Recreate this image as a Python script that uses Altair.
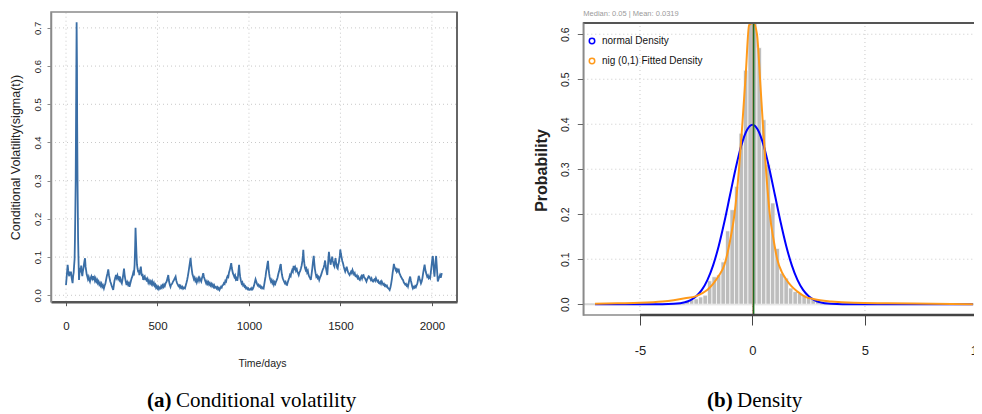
import altair as alt
import pandas as pd

# ---------------- panel (a): conditional volatility ----------------
vol_points = [
    (0, .027), (4, .05), (9, .080), (12, .065), (15, .055), (18, .050), (21, .062), (24, .055), (27, .062),
    (30, .048), (33, .040), (36, .032), (39, .050), (42, .060), (44, .075), (47, .095), (49, .150), (51, .22),
    (53, .300), (56, .550), (58, .715), (60, .60), (61, .450), (63, .30), (64, .250), (66, .15), (68, .100),
    (71, .040), (74, .060), (77, .072), (80, .060), (83, .078), (86, .060), (89, .050), (92, .062), (95, .070),
    (98, .080), (101, .090), (104, .097), (107, .075), (110, .065), (113, .055), (116, .050), (120, .042),
    (124, .048), (128, .040), (131, .036), (135, .045), (139, .050), (143, .044), (146, .050), (150, .040),
    (154, .046), (158, .038), (162, .044), (166, .036), (170, .040), (174, .032), (178, .036), (182, .028),
    (186, .032), (190, .025), (194, .030), (198, .022), (202, .026), (207, .018), (211, .025), (215, .030),
    (219, .040), (223, .050), (227, .058), (231, .068), (235, .052), (238, .045), (242, .036), (246, .031),
    (249, .026), (252, .022), (255, .018), (258, .014), (262, .028), (265, .038), (269, .045), (273, .053),
    (277, .046), (281, .052), (285, .044), (289, .050), (293, .040), (297, .044), (301, .035), (305, .031),
    (309, .042), (313, .055), (317, .070), (320, .055), (323, .045), (327, .035), (331, .027), (335, .034),
    (339, .028), (343, .032), (347, .022), (351, .030), (355, .038), (359, .045), (363, .050), (367, .058),
    (371, .052), (375, .080), (378, .130), (380, .177), (382, .150), (385, .110), (388, .080), (391, .070),
    (395, .060), (398, .066), (401, .053), (405, .065), (409, .075), (412, .060), (415, .050), (418, .056),
    (422, .040), (426, .048), (430, .050), (434, .040), (438, .046), (442, .036), (446, .042), (450, .033),
    (454, .038), (459, .031), (463, .036), (467, .030), (471, .036), (475, .028), (480, .033), (484, .025),
    (488, .028), (492, .020), (496, .024), (500, .018), (504, .022), (508, .016), (512, .020), (516, .018),
    (520, .024), (524, .020), (528, .026), (532, .022), (536, .028), (540, .024), (545, .032), (550, .036),
    (555, .045), (559, .053), (562, .040), (565, .032), (568, .026), (571, .022), (575, .028), (580, .030),
    (585, .036), (590, .040), (595, .045), (599, .049), (603, .038), (607, .032), (611, .028), (615, .024),
    (619, .026), (623, .020), (627, .024), (631, .019), (636, .022), (640, .017), (645, .020), (650, .018),
    (654, .025), (658, .032), (662, .040), (666, .050), (670, .062), (674, .075), (678, .088), (681, .098),
    (684, .080), (688, .065), (691, .055), (695, .049), (699, .042), (703, .046), (707, .038), (711, .042),
    (715, .034), (719, .040), (723, .045), (727, .038), (731, .045), (735, .040), (739, .036), (743, .045),
    (747, .052), (750, .058), (754, .048), (758, .042), (762, .036), (766, .031), (770, .036), (774, .030),
    (778, .034), (782, .028), (786, .032), (790, .026), (794, .030), (798, .024), (802, .028), (806, .022),
    (810, .026), (814, .020), (819, .022), (823, .018), (827, .021), (831, .016), (835, .019), (839, .014),
    (843, .018), (847, .022), (851, .020), (855, .026), (859, .027), (863, .032), (867, .030), (871, .038),
    (875, .036), (879, .045), (883, .050), (887, .048), (891, .060), (895, .066), (899, .075), (903, .084),
    (906, .072), (909, .065), (912, .058), (916, .053), (920, .048), (924, .052), (928, .042), (932, .045),
    (936, .038), (940, .050), (943, .065), (946, .080), (949, .060), (952, .048), (956, .038), (960, .031),
    (964, .034), (968, .026), (972, .028), (976, .022), (980, .024), (984, .018), (988, .020), (992, .016),
    (996, .018), (1000, .014), (1004, .014), (1008, .017), (1012, .015), (1016, .019), (1020, .016),
    (1024, .020), (1028, .026), (1032, .034), (1036, .042), (1040, .036), (1044, .030), (1048, .026),
    (1052, .028), (1056, .023), (1060, .025), (1064, .020), (1068, .022), (1072, .018), (1076, .020),
    (1080, .018), (1084, .030), (1088, .042), (1091, .050), (1094, .062), (1097, .070), (1101, .082),
    (1104, .090), (1107, .070), (1110, .058), (1113, .048), (1116, .042), (1120, .036), (1124, .040),
    (1128, .032), (1132, .036), (1136, .028), (1140, .034), (1144, .030), (1148, .036), (1152, .040),
    (1156, .046), (1160, .055), (1164, .062), (1168, .070), (1171, .078), (1174, .082), (1177, .065),
    (1180, .055), (1184, .045), (1188, .040), (1192, .036), (1196, .032), (1200, .035), (1204, .028),
    (1208, .027), (1212, .034), (1216, .040), (1220, .046), (1224, .053), (1228, .050), (1232, .060),
    (1236, .066), (1240, .062), (1244, .077), (1248, .070), (1252, .074), (1256, .066), (1260, .072),
    (1264, .062), (1268, .058), (1272, .053), (1276, .060), (1280, .064), (1284, .070), (1288, .078),
    (1292, .090), (1295, .105), (1297, .119), (1300, .095), (1303, .082), (1306, .072), (1310, .066),
    (1314, .070), (1318, .060), (1322, .064), (1326, .053), (1330, .048), (1334, .045), (1338, .040),
    (1342, .055), (1346, .070), (1350, .088), (1354, .103), (1357, .085), (1360, .070), (1364, .058),
    (1368, .049), (1372, .052), (1376, .045), (1380, .048), (1384, .040), (1388, .046), (1392, .050),
    (1396, .056), (1400, .062), (1404, .068), (1408, .072), (1412, .080), (1416, .091), (1419, .078),
    (1422, .068), (1425, .060), (1428, .053), (1431, .072), (1434, .095), (1437, .114), (1440, .100),
    (1443, .090), (1446, .080), (1449, .088), (1452, .092), (1455, .101), (1458, .090), (1461, .085),
    (1464, .078), (1467, .075), (1470, .088), (1473, .097), (1476, .085), (1479, .080), (1482, .072),
    (1485, .070), (1488, .080), (1491, .085), (1494, .095), (1497, .105), (1499, .120), (1502, .110),
    (1506, .100), (1510, .090), (1514, .084), (1518, .075), (1522, .068), (1526, .062), (1530, .068),
    (1534, .075), (1538, .066), (1542, .060), (1546, .056), (1550, .053), (1554, .058), (1558, .062),
    (1562, .058), (1566, .066), (1570, .060), (1574, .055), (1578, .058), (1582, .050), (1586, .049),
    (1590, .052), (1594, .045), (1598, .048), (1602, .042), (1606, .040), (1610, .046), (1614, .050),
    (1618, .044), (1622, .052), (1626, .053), (1630, .046), (1634, .045), (1638, .040), (1642, .036),
    (1646, .042), (1650, .045), (1654, .050), (1658, .049), (1662, .044), (1666, .040), (1670, .044),
    (1674, .038), (1678, .036), (1682, .040), (1686, .042), (1690, .038), (1694, .045), (1698, .040),
    (1702, .036), (1706, .038), (1710, .032), (1714, .031), (1718, .035), (1722, .030), (1726, .036),
    (1730, .032), (1734, .028), (1738, .030), (1742, .025), (1746, .027), (1750, .023), (1754, .025),
    (1758, .020), (1762, .018), (1766, .016), (1769, .014), (1773, .020), (1777, .030), (1781, .042),
    (1785, .058), (1788, .068), (1792, .082), (1795, .075), (1798, .072), (1802, .066), (1805, .068),
    (1808, .062), (1812, .066), (1815, .060), (1818, .070), (1822, .058), (1826, .054), (1830, .049),
    (1834, .046), (1838, .042), (1842, .040), (1846, .034), (1850, .031), (1854, .028), (1858, .030),
    (1862, .025), (1866, .027), (1869, .023), (1873, .032), (1877, .042), (1881, .049), (1885, .038),
    (1889, .030), (1893, .022), (1896, .018), (1900, .022), (1904, .020), (1908, .024), (1912, .021),
    (1916, .026), (1920, .030), (1924, .040), (1928, .051), (1932, .044), (1936, .038), (1940, .031),
    (1944, .036), (1948, .045), (1952, .058), (1956, .070), (1960, .080), (1963, .070), (1966, .062),
    (1970, .055), (1974, .049), (1978, .052), (1982, .045), (1986, .048), (1990, .045), (1994, .060),
    (1998, .078), (2002, .095), (2005, .103), (2008, .082), (2011, .062), (2014, .049), (2017, .070),
    (2020, .090), (2023, .103), (2026, .080), (2029, .058), (2032, .036), (2036, .042), (2040, .048),
    (2044, .053), (2048, .046), (2051, .052), (2054, .058),
]
vol_xticks = [0, 500, 1000, 1500, 2000]
vol_yticks = [0.0, 0.1, 0.2, 0.3, 0.4, 0.5, 0.6, 0.7]
vol_xdomain = [-82, 2137]
vol_ydomain = [-0.0168, 0.7416]
vol_xtitle = "Time/days"
vol_ytitle = "Conditional Volatility(sigma(t))"

# ---------------- panel (b): density ----------------
bin_left = [-3.0, -2.8, -2.6, -2.4, -2.2, -2.0, -1.8, -1.6, -1.4, -1.2, -1.0, -0.8, -0.6, -0.4, -0.2,
            0.0, 0.2, 0.4, 0.6, 0.8, 1.0, 1.2, 1.4, 1.6, 1.8, 2.0, 2.2, 2.4, 2.6, 2.8]
bin_right = [-2.8, -2.6, -2.4, -2.2, -2.0, -1.8, -1.6, -1.4, -1.2, -1.0, -0.8, -0.6, -0.4, -0.2, 0.0,
             0.2, 0.4, 0.6, 0.8, 1.0, 1.2, 1.4, 1.6, 1.8, 2.0, 2.2, 2.4, 2.6, 2.8, 3.0]
bin_height = [0.008, 0.010, 0.012, 0.016, 0.020, 0.052, 0.061, 0.065, 0.094, 0.163, 0.210, 0.262, 0.380,
              0.520, 0.720, 0.740, 0.570, 0.410, 0.310, 0.225, 0.124, 0.069, 0.058, 0.036, 0.028, 0.024,
              0.020, 0.016, 0.012, 0.009]

normal_x = [-7.0, -4.0, -3.5, -3.0, -2.75, -2.5, -2.25, -2.0, -1.75, -1.5, -1.25, -1.0, -0.75, -0.5, -0.25,
            0.0, 0.25, 0.5, 0.75, 1.0, 1.25, 1.5, 1.75, 2.0, 2.25, 2.5, 2.75, 3.0, 3.5, 4.0, 9.8]
normal_y = [0.0, 0.0001, 0.0009, 0.0044, 0.0091, 0.0175, 0.0317, 0.054, 0.0863, 0.1295, 0.1826, 0.242,
            0.3011, 0.3521, 0.3867, 0.3989, 0.3867, 0.3521, 0.3011, 0.242, 0.1826, 0.1295, 0.0863, 0.054,
            0.0317, 0.0175, 0.0091, 0.0044, 0.0009, 0.0001, 0.0]
nig_x = [-7.0, -6.0, -5.0, -4.0, -3.5, -3.0, -2.5, -2.25, -2.0, -1.75, -1.5, -1.25, -1.0, -0.8, -0.6, -0.45,
         -0.3, -0.15, 0.0, 0.05, 0.2, 0.35, 0.45, 0.6, 0.77, 0.95, 1.1, 1.3, 1.5, 1.73, 2.0, 2.33, 2.75, 3.5,
         4.5, 6.0, 8.0, 9.8]
nig_y = [0.001, 0.002, 0.003, 0.006, 0.009, 0.013, 0.018, 0.024, 0.032, 0.045, 0.063, 0.087, 0.140, 0.200,
         0.300, 0.400, 0.510, 0.620, 0.700, 0.710, 0.600, 0.490, 0.410, 0.300, 0.200, 0.140, 0.100, 0.072,
         0.055, 0.040, 0.028, 0.017, 0.011, 0.006, 0.003, 0.002, 0.001, 0.0]
series_names = ["normal Density", "nig (0,1) Fitted Density"]
series_colors = ["#0000ff", "#ff9a1a"]
dens_xticks = [-5, 0, 5, 10]
dens_yticks = [0.0, 0.1, 0.2, 0.3, 0.4, 0.5, 0.6]
dens_xdomain = [-7.52, 10.19]
dens_ydomain = [-0.024, 0.625]
dens_axis_span = [-5, 10]
stat_values = [0.0319, 0.05]          # mean, median
stat_colors = ["#b0442a", "#1e6b1e"]
stat_widths = [1.2, 1.6]
dens_subtitle = "Median: 0.05 | Mean: 0.0319"
dens_ytitle = "Probability"

cap_a = ["(a)", "Conditional volatility"]
cap_b = ["(b)", "Density"]

# ---------------- styling ----------------
W, H = 966, 405
SANS = "Liberation Sans, Arial, Helvetica, sans-serif"
SERIF = "Liberation Serif, Times New Roman, serif"
GRID = "#c9c9c9"
FRAME = "#8a8a8a"

vx = alt.Scale(domain=vol_xdomain, range=[43, 449], nice=False, zero=False)
vy = alt.Scale(domain=vol_ydomain, range=[293.7, 4], nice=False, zero=False)
dx = alt.Scale(domain=dens_xdomain, range=[575.3, 973.7], nice=False, zero=False)
dy = alt.Scale(domain=dens_ydomain, range=[307, 15], nice=False, zero=False, clamp=True)

ax_vx = alt.Axis(orient="bottom", offset=293.7 - H, values=vol_xticks, format="d", grid=False,
                 domain=True, domainColor="#555555", domainWidth=2.5, tickSize=4, tickColor="#555555",
                 labelFont=SANS, labelFontSize=11.5, labelColor="#222222", labelPadding=15,
                 labelFlush=False, labelOverlap=False, zindex=1,
                 title=vol_xtitle, titleFont=SANS, titleFontSize=10.5, titleFontWeight="normal",
                 titleColor="#222222", titleX=254, titleY=61.3, titleAlign="center",
                 titleBaseline="middle", titleAngle=0)
ax_vy = alt.Axis(orient="left", offset=-43, values=vol_yticks, format=".1f", grid=False,
                 domainColor=FRAME, domainWidth=1.5, tickSize=4, tickColor=FRAME,
                 labelAngle=270, labelAlign="center", labelBaseline="middle", labelPadding=10,
                 labelFont=SANS, labelFontSize=9.5, labelColor="#222222", labelFlush=False,
                 labelOverlap=False, zindex=1,
                 title=vol_ytitle, titleFont=SANS, titleFontSize=12.5, titleFontWeight="normal",
                 titleColor="#222222", titleAngle=270, titleX=-36, titleY=149,
                 titleAlign="center", titleBaseline="middle")
ax_dx = alt.Axis(orient="bottom", offset=307 - H, values=dens_xticks, grid=False,
                 labelExpr="'' + datum.value",
                 domain=False, tickSize=10, tickColor="#444444", labelFont=SANS, labelFontSize=13,
                 labelColor="#222222", labelPadding=19, labelFlush=False, labelOverlap=False,
                 zindex=1, title="")
ax_dy = alt.Axis(orient="left", offset=-575.3, values=dens_yticks, format=".1f", grid=False,
                 domainColor=FRAME, domainWidth=1.5, tickSize=6, tickColor="#666666",
                 labelAngle=270, labelAlign="center", labelBaseline="middle", labelPadding=12,
                 labelFont=SANS, labelFontSize=10.5, labelColor="#222222", labelFlush=False,
                 labelOverlap=False, zindex=1,
                 title=dens_ytitle, titleFont=SANS, titleFontSize=16, titleFontWeight="bold",
                 titleColor="#222222", titleAngle=270, titleX=-42.3, titleY=162,
                 titleAlign="center", titleBaseline="middle")


def VX(f):
    return alt.X(f, scale=vx, axis=ax_vx)


def VY(f):
    return alt.Y(f, scale=vy, axis=ax_vy)


def DX(f):
    return alt.X(f, scale=dx, axis=ax_dx)


def DY(f):
    return alt.Y(f, scale=dy, axis=ax_dy)


# ---------------- panel (a) layers ----------------
vol_df = pd.DataFrame(vol_points, columns=["day", "sigma"])
vgx = pd.DataFrame({"v": vol_xticks, "lo": vol_ydomain[0], "hi": vol_ydomain[1]})
vgy = pd.DataFrame({"v": vol_yticks, "lo": vol_xdomain[0], "hi": vol_xdomain[1]})
vframe = pd.DataFrame({"x0": [vol_xdomain[0]], "x1": [vol_xdomain[1]],
                       "y0": [vol_ydomain[0]], "y1": [vol_ydomain[1]]})

a_gridx = alt.Chart(vgx).mark_rule(color=GRID, strokeDash=[1, 3], strokeWidth=1).encode(
    x=VX("v:Q"), y=VY("lo:Q"), y2="hi:Q")
a_gridy = alt.Chart(vgy).mark_rule(color=GRID, strokeDash=[1, 3], strokeWidth=1).encode(
    y=VY("v:Q"), x=VX("lo:Q"), x2="hi:Q")
a_line = alt.Chart(vol_df).mark_line(color="#3a6ea6", strokeWidth=1.8).encode(
    x=VX("day:Q"), y=VY("sigma:Q"))
a_frame = alt.Chart(vframe).mark_rect(fillOpacity=0, stroke=FRAME, strokeWidth=1.5).encode(
    x=VX("x0:Q"), x2="x1:Q", y=VY("y0:Q"), y2="y1:Q")
a_right = alt.Chart(vframe).mark_rule(color="#666666", strokeWidth=2).encode(
    x=VX("x1:Q"), y=VY("y0:Q"), y2="y1:Q")
panel_a = alt.layer(a_gridx, a_gridy, a_line, a_frame, a_right)

# ---------------- panel (b) layers ----------------
hist_df = pd.DataFrame({"x0": bin_left, "x1": bin_right, "h": bin_height, "b": 0.0})
curves_df = pd.concat([
    pd.DataFrame({"x": normal_x, "y": normal_y, "series": series_names[0], "o": 0}),
    pd.DataFrame({"x": nig_x, "y": nig_y, "series": series_names[1], "o": 1}),
])
dgx = pd.DataFrame({"v": dens_xticks, "lo": dens_ydomain[0], "hi": dens_ydomain[1]})
dgy = pd.DataFrame({"v": dens_yticks, "lo": dens_xdomain[0], "hi": dens_xdomain[1]})
dframe = pd.DataFrame({"x0": [dens_xdomain[0]], "x1": [dens_xdomain[1]],
                       "y0": [dens_ydomain[0]], "y1": [dens_ydomain[1]],
                       "a0": [dens_axis_span[0]], "a1": [dens_axis_span[1]], "z": [0.0]})
stats_df = pd.DataFrame({"v": stat_values, "c": stat_colors, "w": stat_widths,
                         "lo": dens_ydomain[0], "hi": dens_ydomain[1]})
sub_df = pd.DataFrame({"t": [dens_subtitle]})

b_gridx = alt.Chart(dgx).mark_rule(color=GRID, strokeDash=[1, 3], strokeWidth=1).encode(
    x=DX("v:Q"), y=DY("lo:Q"), y2="hi:Q")
b_gridy = alt.Chart(dgy).mark_rule(color=GRID, strokeDash=[1, 3], strokeWidth=1).encode(
    y=DY("v:Q"), x=DX("lo:Q"), x2="hi:Q")
b_zero = alt.Chart(dframe).mark_rule(color="#d6d6d6", strokeWidth=2).encode(
    x=DX("x0:Q"), x2="x1:Q", y=DY("z:Q"))
b_hist = alt.Chart(hist_df).mark_rect(fill="#bdbdbd", stroke="white", strokeWidth=0.7).encode(
    x=DX("x0:Q"), x2="x1:Q", y=DY("h:Q"), y2="b:Q")
b_curves = alt.Chart(curves_df).mark_line(strokeWidth=2, interpolate="monotone").encode(
    x=DX("x:Q"), y=DY("y:Q"),
    order="o:Q",
    color=alt.Color("series:N",
                    scale=alt.Scale(domain=series_names, range=series_colors),
                    legend=alt.Legend(orient="none", legendX=579, legendY=28, direction="vertical",
                                      title=None, symbolType="circle", symbolSize=30,
                                      symbolStrokeWidth=1.5, symbolFillColor="white",
                                      labelFont=SANS, labelFontSize=10, labelColor="#111111",
                                      labelOffset=5, rowPadding=8, padding=0)))
b_stats = alt.Chart(stats_df).mark_rule().encode(
    x=DX("v:Q"), y=DY("lo:Q"), y2="hi:Q",
    color=alt.Color("c:N", scale=None),
    strokeWidth=alt.StrokeWidth("w:Q", scale=None))
b_frame = alt.Chart(dframe).mark_rect(fillOpacity=0, stroke=FRAME, strokeWidth=1.5).encode(
    x=DX("x0:Q"), x2="x1:Q", y=DY("y0:Q"), y2="y1:Q")
b_top = alt.Chart(dframe).mark_rule(color="#555555", strokeWidth=2).encode(
    x=DX("x0:Q"), x2="x1:Q", y=DY("y1:Q"))
b_axis = alt.Chart(dframe).mark_rule(color="#444444", strokeWidth=2.5).encode(
    x=DX("a0:Q"), x2="a1:Q", y=DY("y0:Q"))
b_sub = alt.Chart(sub_df).mark_text(align="left", baseline="middle", font=SANS, fontSize=7.5,
                                    color="#9a9a9a").encode(
    text="t:N", x=alt.value(575.3), y=alt.value(6))
panel_b = alt.layer(b_gridx, b_gridy, b_zero, b_hist, b_curves, b_stats, b_frame, b_top, b_axis, b_sub)


# ---------------- captions ----------------
def cap(txt, xpos, bold):
    return alt.Chart(pd.DataFrame({"t": [txt]})).mark_text(
        align="left", baseline="alphabetic", font=SERIF, fontSize=21,
        fontWeight="bold" if bold else "normal", color="#000000").encode(
        text="t:N", x=alt.value(xpos), y=alt.value(399))


captions = alt.layer(cap(cap_a[0], 139, True), cap(cap_a[1], 168, False),
                     cap(cap_b[0], 699, True), cap(cap_b[1], 729, False))

chart = alt.layer(panel_a, panel_b, captions).resolve_scale(
    x="independent", y="independent").properties(
    width=W, height=H, autosize=alt.AutoSizeParams(type="none"), padding=0,
    background="white").configure_view(stroke=None)

chart.save("out.html", embed_options={"renderer": "svg", "actions": False})
